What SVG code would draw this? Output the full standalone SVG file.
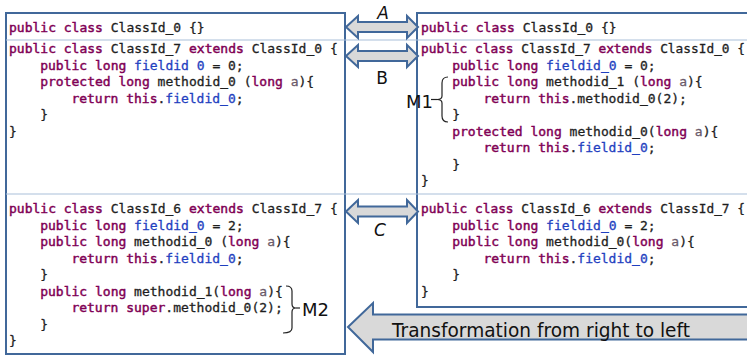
<svg xmlns="http://www.w3.org/2000/svg" width="747" height="356" viewBox="0 0 747 356">
  <style>
    .code { font-family: "DejaVu Sans Mono", "Liberation Mono", monospace; font-size: 13px; fill: #1e1e1e; stroke: #1e1e1e; stroke-width: 0.3; }
    .k { fill: #7f0055; stroke: #7f0055; stroke-width: 0.45; }
    .f { fill: #1f3fbf; stroke: #1f3fbf; }
    .p { fill: #6a5a6a; stroke: #6a5a6a; }
    .frame { fill: #ffffff; stroke: #41689a; stroke-width: 2; }
    .sep { stroke: #a9c0da; stroke-width: 1.2; }
    .arrow { fill: #d9d9d9; stroke: #41689a; stroke-width: 2; stroke-linejoin: miter; }
    .hand { font-family: "DejaVu Sans", "Liberation Sans", sans-serif; fill: #111111; }
    .brace { fill: none; stroke: #222222; stroke-width: 1.2; }
  </style>

  <rect width="747" height="356" fill="#ffffff"/>

  <!-- left column: original program -->
  <g id="left-panel">
    <rect class="frame" x="6" y="13" width="339" height="341"/>
  </g>

  <!-- right column: transformed program -->
  <g id="right-panel">
    <rect class="frame" x="417" y="13" width="340" height="294"/>
  </g>

  <!-- row separators spanning both columns -->
  <line class="sep" x1="6" y1="40" x2="747" y2="40"/>
  <line class="sep" x1="6" y1="194" x2="747" y2="194"/>

  <g id="left-classid0">
    <text class="code" x="9" y="32"><tspan class="k">public class</tspan> ClassId_0 {}</text>
  </g>

  <g id="left-classid7">
    <text class="code" x="9" y="53"><tspan class="k">public class</tspan> ClassId_7 <tspan class="k">extends</tspan> ClassId_0 {</text>
    <text class="code" x="40.2" y="69.5"><tspan class="k">public long</tspan> <tspan class="f">fieldid 0</tspan> = 0;</text>
    <text class="code" x="40.2" y="86"><tspan class="k">protected long</tspan> methodid_0 (<tspan class="k">long</tspan> <tspan class="p">a</tspan>){</text>
    <text class="code" x="71.4" y="102.5"><tspan class="k">return this</tspan>.<tspan class="f">fieldid_0</tspan>;</text>
    <text class="code" x="40.2" y="119">}</text>
    <text class="code" x="9" y="135.5">}</text>
  </g>

  <g id="left-classid6">
    <text class="code" x="9" y="213"><tspan class="k">public class</tspan> ClassId_6 <tspan class="k">extends</tspan> ClassId_7 {</text>
    <text class="code" x="40.2" y="229.5"><tspan class="k">public long</tspan> <tspan class="f">fieldid_0</tspan> = 2;</text>
    <text class="code" x="40.2" y="246"><tspan class="k">public long</tspan> methodid_0 (<tspan class="k">long</tspan> <tspan class="p">a</tspan>){</text>
    <text class="code" x="71.4" y="262.5"><tspan class="k">return this</tspan>.<tspan class="f">fieldid_0</tspan>;</text>
    <text class="code" x="40.2" y="279">}</text>
    <text class="code" x="40.2" y="295.5"><tspan class="k">public long</tspan> methodid_1(<tspan class="k">long</tspan> <tspan class="p">a</tspan>){</text>
    <text class="code" x="71.4" y="312"><tspan class="k">return super</tspan>.methodid_0(2);</text>
    <text class="code" x="40.2" y="328.5">}</text>
    <text class="code" x="9" y="345">}</text>
  </g>

  <g id="right-classid0">
    <text class="code" x="421" y="32"><tspan class="k">public class</tspan> ClassId_0 {}</text>
  </g>

  <g id="right-classid7">
    <text class="code" x="421" y="53" textLength="324" lengthAdjust="spacingAndGlyphs"><tspan class="k">public class</tspan> ClassId_7 <tspan class="k">extends</tspan> ClassId_0 {</text>
    <text class="code" x="452.2" y="69.5"><tspan class="k">public long</tspan> <tspan class="f">fieldid_0</tspan> = 0;</text>
    <text class="code" x="452.2" y="86"><tspan class="k">public long</tspan> methodid_1 (<tspan class="k">long</tspan> <tspan class="p">a</tspan>){</text>
    <text class="code" x="483.4" y="102.5"><tspan class="k">return this</tspan>.methodid_0(2);</text>
    <text class="code" x="452.2" y="119">}</text>
    <text class="code" x="452.2" y="135.5"><tspan class="k">protected long</tspan> methodid_0(<tspan class="k">long</tspan> <tspan class="p">a</tspan>){</text>
    <text class="code" x="483.4" y="152"><tspan class="k">return this</tspan>.<tspan class="f">fieldid_0</tspan>;</text>
    <text class="code" x="452.2" y="168.5">}</text>
    <text class="code" x="421" y="185">}</text>
  </g>

  <g id="right-classid6">
    <text class="code" x="421" y="213" textLength="324" lengthAdjust="spacingAndGlyphs"><tspan class="k">public class</tspan> ClassId_6 <tspan class="k">extends</tspan> ClassId_7 {</text>
    <text class="code" x="452.2" y="229.5"><tspan class="k">public long</tspan> <tspan class="f">fieldid_0</tspan> = 2;</text>
    <text class="code" x="452.2" y="246"><tspan class="k">public long</tspan> methodid_0(<tspan class="k">long</tspan> <tspan class="p">a</tspan>){</text>
    <text class="code" x="483.4" y="262.5"><tspan class="k">return this</tspan>.<tspan class="f">fieldid_0</tspan>;</text>
    <text class="code" x="452.2" y="279">}</text>
    <text class="code" x="421" y="295.5">}</text>
  </g>

  <!-- correspondence arrows between the two columns -->
  <g id="connectors">
    <path id="link-a" class="arrow" d="M346,27 L358,16 L358,22 L407,22 L407,16 L418,27 L407,38 L407,32 L358,32 L358,38 Z"/>
    <path id="link-b" class="arrow" d="M346,56 L358,45 L358,51 L407,51 L407,45 L418,56 L407,67 L407,61 L358,61 L358,67 Z"/>
    <path id="link-c" class="arrow" d="M346,211.5 L358,200 L358,206.5 L407,206.5 L407,200 L418,211.5 L407,223 L407,216.5 L358,216.5 L358,223 Z"/>
    <path id="transform-arrow" class="arrow" d="M348,327 L373,303 L373,314.5 L752,314.5 L752,339.5 L373,339.5 L373,352 Z"/>
  </g>

  <g id="labels">
    <text class="hand" x="383" y="19" font-size="17" font-style="italic" text-anchor="middle">A</text>
    <text class="hand" x="382" y="84" font-size="17" text-anchor="middle">B</text>
    <text class="hand" x="380" y="236" font-size="17" font-style="italic" text-anchor="middle">C</text>
    <text class="hand" x="392" y="337" font-size="20" textLength="298" lengthAdjust="spacingAndGlyphs">Transformation from right to left</text>
  </g>

  <!-- M1: brace around the added method in the right column -->
  <g id="m1">
    <path class="brace" d="M448,77 Q442,77 442,83 L442,96 Q442,99.5 437,99.5 Q442,99.5 442,103 L442,116 Q442,122 448,122"/>
    <line class="brace" x1="431" y1="99.5" x2="437" y2="99.5"/>
    <text class="hand" x="406" y="108" font-size="18">M1</text>
  </g>

  <!-- M2: brace around the added method in the left column -->
  <g id="m2">
    <path class="brace" d="M286,286 Q292,286 292,291 L292,304 Q292,308 296,308 Q292,308 292,312 L292,328 Q292,333 283,333"/>
    <line class="brace" x1="296" y1="308" x2="300" y2="308"/>
    <text class="hand" x="302" y="316" font-size="18">M2</text>
  </g>
</svg>
